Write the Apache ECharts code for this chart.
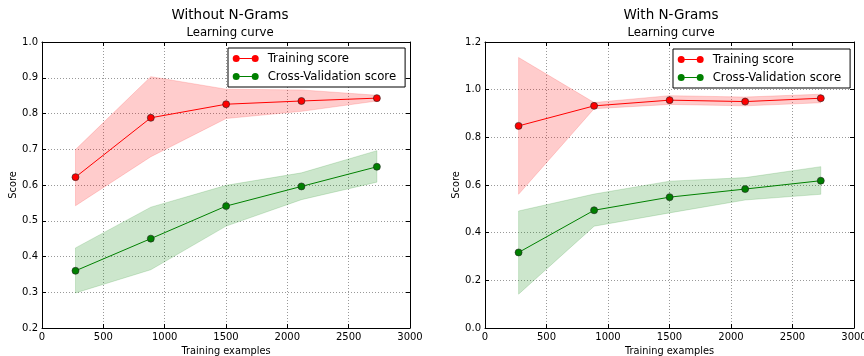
<!DOCTYPE html>
<html>
<head>
<meta charset="utf-8">
<script src="https://cdn.jsdelivr.net/npm/echarts@6/dist/echarts.min.js"></script>
<style>
html,body{margin:0;padding:0;background:#fff;}
#chart{width:864px;height:356px;}
</style>
</head>
<body>
<div id="chart"></div>
<script>
// ---- data ----
var trainSizes = [273, 887, 1501, 2115, 2730];
var xTicks = [0, 500, 1000, 1500, 2000, 2500, 3000];

// Without N-Grams
var noNgTrainMean  = [0.622, 0.788, 0.826, 0.835, 0.843];
var noNgTrainUpper = [0.699, 0.903, 0.868, 0.866, 0.851];
var noNgTrainLower = [0.542, 0.679, 0.786, 0.806, 0.835];
var noNgCvMean  = [0.360, 0.450, 0.541, 0.596, 0.651];
var noNgCvUpper = [0.424, 0.538, 0.599, 0.634, 0.696];
var noNgCvLower = [0.298, 0.363, 0.485, 0.559, 0.608];

// With N-Grams
var ngTrainMean  = [0.848, 0.932, 0.956, 0.950, 0.964];
var ngTrainUpper = [1.135, 0.946, 0.975, 0.969, 0.981];
var ngTrainLower = [0.561, 0.920, 0.938, 0.932, 0.945];
var ngCvMean  = [0.317, 0.494, 0.549, 0.583, 0.618];
var ngCvUpper = [0.491, 0.562, 0.616, 0.631, 0.677];
var ngCvLower = [0.142, 0.427, 0.483, 0.537, 0.561];

var titles = ['Without N-Grams', 'With N-Grams'];
var subTitle = 'Learning curve';
var seriesNames = ['Training score', 'Cross-Validation score'];

// ---- helpers ----
var FONT = 'DejaVu Sans';
function pairs(xs, ys) { return xs.map(function (x, i) { return [x, ys[i]]; }); }

function bandSeries(gi, lo, hi, rgba) {
  return {
    type: 'custom', xAxisIndex: gi * 2, yAxisIndex: gi * 2, silent: true, z: 1,
    data: trainSizes.map(function (x, i) { return [x, lo[i], hi[i]]; }),
    encode: { x: 0, y: [1, 2] },
    renderItem: function (params, api) {
      if (params.dataIndex !== 0) return null;
      var pts = [];
      for (var i = 0; i < trainSizes.length; i++) pts.push(api.coord([trainSizes[i], hi[i]]));
      for (var j = trainSizes.length - 1; j >= 0; j--) pts.push(api.coord([trainSizes[j], lo[j]]));
      return { type: 'polygon', shape: { points: pts }, style: { fill: rgba, stroke: rgba, lineWidth: 0.8 } };
    }
  };
}
function meanSeries(gi, name, ys, color) {
  return { type: 'line', name: name, xAxisIndex: gi * 2, yAxisIndex: gi * 2, data: pairs(trainSizes, ys),
    symbol: 'circle', symbolSize: 7,
    lineStyle: { color: color, width: 1 },
    itemStyle: { color: color, borderColor: '#222', borderWidth: 0.6 }, z: 3 };
}

var grids = [
  { left: 42, top: 42, width: 368, height: 286, containLabel: false, outerBoundsMode: 'none' },
  { left: 485, top: 42, width: 369, height: 286, containLabel: false, outerBoundsMode: 'none' }
];
var yRanges = [{ min: 0.2, max: 1.0, interval: 0.1 }, { min: 0.0, max: 1.2, interval: 0.2 }];

var xAxes = [], yAxes = [];
[0, 1].forEach(function (gi) {
  xAxes.push({
    type: 'value', gridIndex: gi, min: 0, max: 3000, interval: 500, position: 'bottom',
    name: 'Training examples', nameLocation: 'middle', nameGap: 17,
    nameTextStyle: { fontFamily: FONT, fontSize: 9.8, color: '#000' },
    axisLine: { show: true, onZero: false, lineStyle: { color: '#000', width: 1 } },
    axisTick: { show: true, inside: true, length: 4, lineStyle: { color: '#000' } },
    axisLabel: { fontFamily: FONT, fontSize: 10, color: '#000', margin: 4, hideOverlap: false,
      formatter: function (v) { return xTicks.indexOf(v) >= 0 ? String(v) : ''; } },
    splitLine: { show: true, lineStyle: { color: '#999', type: [1, 2], width: 1 } }
  });
  xAxes.push({
    type: 'value', gridIndex: gi, min: 0, max: 3000, interval: 500, position: 'top',
    axisLine: { show: true, onZero: false, lineStyle: { color: '#000', width: 1 } },
    axisTick: { show: true, inside: true, length: 4, lineStyle: { color: '#000' } },
    axisLabel: { show: false }, splitLine: { show: false }
  });
  var r = yRanges[gi];
  yAxes.push({
    type: 'value', gridIndex: gi, min: r.min, max: r.max, interval: r.interval, position: 'left',
    name: 'Score', nameLocation: 'middle', nameGap: 22, nameRotate: 90,
    nameTextStyle: { fontFamily: FONT, fontSize: 9.8, color: '#000' },
    axisLine: { show: true, onZero: false, lineStyle: { color: '#000', width: 1 } },
    axisTick: { show: true, inside: true, length: 4, lineStyle: { color: '#000' } },
    axisLabel: { fontFamily: FONT, fontSize: 10, color: '#000', margin: 4,
      formatter: function (v) { return v.toFixed(1); } },
    splitLine: { show: true, lineStyle: { color: '#999', type: [1, 2], width: 1 } }
  });
  yAxes.push({
    type: 'value', gridIndex: gi, min: r.min, max: r.max, interval: r.interval, position: 'right',
    axisLine: { show: true, onZero: false, lineStyle: { color: '#000', width: 1 } },
    axisTick: { show: true, inside: true, length: 4, lineStyle: { color: '#000' } },
    axisLabel: { show: false }, splitLine: { show: false }
  });
});

var series = [
  bandSeries(0, noNgTrainLower, noNgTrainUpper, 'rgba(255,0,0,0.2)'),
  bandSeries(0, noNgCvLower, noNgCvUpper, 'rgba(0,128,0,0.2)'),
  bandSeries(1, ngTrainLower, ngTrainUpper, 'rgba(255,0,0,0.2)'),
  bandSeries(1, ngCvLower, ngCvUpper, 'rgba(0,128,0,0.2)'),
  meanSeries(0, seriesNames[0], noNgTrainMean, '#ff0000'),
  meanSeries(0, seriesNames[1], noNgCvMean, '#008000'),
  meanSeries(1, seriesNames[0], ngTrainMean, '#ff0000'),
  meanSeries(1, seriesNames[1], ngCvMean, '#008000')
];

var legendIcon = 'path://M0,3.5A3.5,3.5,0,1,1,7,3.5A3.5,3.5,0,1,1,0,3.5Z M7,3L19,3L19,4L7,4Z M19,3.5A3.5,3.5,0,1,1,26,3.5A3.5,3.5,0,1,1,19,3.5Z';
function legendAt(left, top) {
  return {
    left: left, top: top, orient: 'vertical',
    data: seriesNames.map(function (n) { return { name: n, icon: legendIcon }; }),
    itemWidth: 26, itemHeight: 7, itemGap: 4,
    itemStyle: { borderWidth: 0 },
    padding: [3.5, 9, 3.5, 4.7],
    backgroundColor: '#fff', borderColor: '#000', borderWidth: 1, borderRadius: 0,
    textStyle: { fontFamily: FONT, fontSize: 11.7, color: '#000', lineHeight: 14, padding: [0, 0, 0, 4] },
    selectedMode: false, z: 10
  };
}

function titleAt(text, x, top, size) {
  return { text: text, left: x, top: top, textAlign: 'center', padding: 0,
    textStyle: { fontFamily: FONT, fontSize: size, fontWeight: 'normal', color: '#000' } };
}

var option = {
  animation: false,
  backgroundColor: '#fff',
  title: [
    titleAt(titles[0], 230, 8, 13.5),
    titleAt(subTitle, 230, 27, 11.7),
    titleAt(titles[1], 671, 8, 13.5),
    titleAt(subTitle, 671, 27, 11.7)
  ],
  legend: [legendAt(228, 48), legendAt(673, 49)],
  grid: grids,
  xAxis: xAxes,
  yAxis: yAxes,
  series: series
};

var chart = echarts.init(document.getElementById('chart'), null, { renderer: 'canvas' });
chart.setOption(option);
</script>
</body>
</html>
